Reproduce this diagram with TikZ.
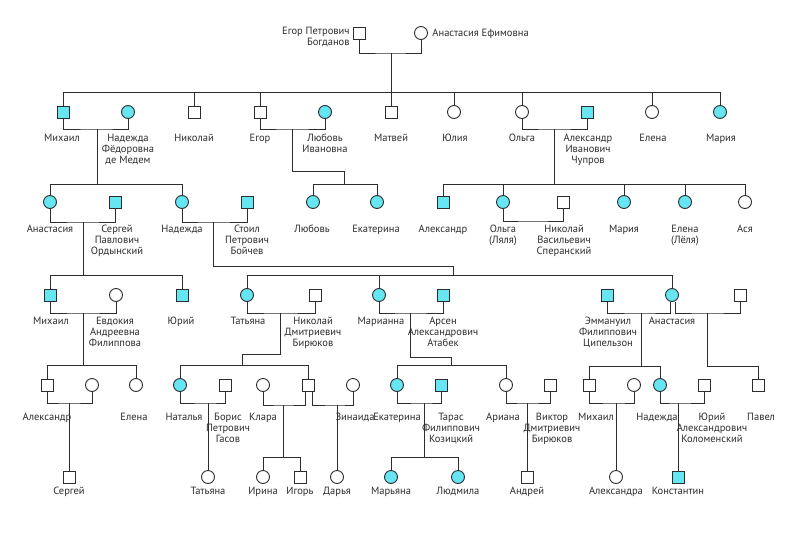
\documentclass[tikz,border=0pt]{standalone}
\usepackage{fontspec}
\setmainfont{PT Sans}
\definecolor{goluboj}{RGB}{102,229,242}
\definecolor{ink}{RGB}{45,45,45}
\tikzset{
  man/.style={draw=ink, rectangle, minimum size=12pt, inner sep=0pt},
  woman/.style={draw=ink, circle, minimum size=13pt, inner sep=0pt},
  kin/.style={fill=goluboj},
  lbl/.style={anchor=north, yshift=7.3pt, align=center, inner sep=0pt, text=ink,
    font=\fontsize{10.5}{11}\selectfont},
}
\begin{document}
\begin{tikzpicture}[x=1pt, y=-1pt, line width=0.9pt, draw=ink]
\fill[white] (0,0) rectangle (800,533);
\useasboundingbox (0,0) rectangle (800,533);

%предки
\node[man] (egor0) at (359,33) {};
\node[woman] (anast0) at (421,33) {};
\node[lbl, anchor=north east, align=right] (l-egor0) at (350,34) {Егор Петрович\\Богданов};
\node[lbl, anchor=north west] (l-anast0) at (432,36) {Анастасия Ефимовна};
\coordinate (u0) at (391,53); \coordinate (b0) at (391,92);

%первое поколение
\node[man, kin] (mikhail1) at (63,112) {};
\node[woman, kin] (nadezhda1) at (128,112) {};
\node[man] (nikolai1) at (194,112) {};
\node[man] (egor1) at (260,112) {};
\node[woman, kin] (lyubov1) at (325,112) {};
\node[man] (matvej1) at (391,112) {};
\node[woman] (yulia1) at (454,112) {};
\node[woman] (olga1) at (522,112) {};
\node[man, kin] (chuprov1) at (587,112) {};
\node[woman] (elena1) at (652,112) {};
\node[woman, kin] (maria1) at (720,112) {};
\node[lbl] at (62,141) {Михаил};
\node[lbl] at (128,141) {Надежда\\Фёдоровна\\де Медем};
\node[lbl] at (194,141) {Николай};
\node[lbl] at (260,141) {Егор};
\node[lbl] at (325,141) {Любовь\\Ивановна};
\node[lbl] at (391,141) {Матвей};
\node[lbl] at (455,141) {Юлия};
\node[lbl] at (522,141) {Ольга};
\node[lbl] at (588,141) {Александр\\Иванович\\Чупров};
\node[lbl] at (653,141) {Елена};
\node[lbl] at (721,141) {Мария};
\coordinate (u1a) at (97,129); \coordinate (b1a) at (97,184);
\coordinate (u1b) at (292,129); \coordinate (k1b) at (292,171); \coordinate (b1b) at (344,184);
\coordinate (u1c) at (554,129); \coordinate (b1c) at (554,184);

%второе поколение
\node[woman, kin] (anast2) at (50,202) {};
\node[man, kin] (sergej2) at (115,202) {};
\node[woman, kin] (nadezhda2) at (182,202) {};
\node[man, kin] (stoil2) at (247,202) {};
\node[woman, kin] (lyubov2) at (313,202) {};
\node[woman, kin] (ekaterina2) at (377,202) {};
\node[man, kin] (aleksandr2) at (443,202) {};
\node[woman, kin] (olga2) at (503,202) {};
\node[man] (speransky2) at (563,202) {};
\node[woman, kin] (maria2) at (624,202) {};
\node[woman, kin] (elena2) at (685,202) {};
\node[woman] (asya2) at (745,202) {};
\node[lbl] at (50,232) {Анастасия};
\node[lbl] at (117,232) {Сергей\\Павлович\\Ордынский};
\node[lbl] at (182,232) {Надежда};
\node[lbl] at (247,232) {Стоил\\Петрович\\Бойчев};
\node[lbl] at (312,232) {Любовь};
\node[lbl] at (376,232) {Екатерина};
\node[lbl] at (443,232) {Александр};
\node[lbl] at (503,232) {Ольга\\(Ляля)};
\node[lbl] at (564,232) {Николай\\Васильевич\\Сперанский};
\node[lbl] at (624,232) {Мария};
\node[lbl] at (685,232) {Елена\\(Лёля)};
\node[lbl] at (745,232) {Ася};
\coordinate (u2a) at (83,222); \coordinate (b2a) at (83,275);
\coordinate (u2b) at (213,222); \coordinate (k2b) at (213,266); \coordinate (b2b) at (453,275);
\coordinate (u2c) at (533,221);

%третье поколение
\node[man, kin] (mikhail3) at (50,295) {};
\node[woman] (evdokia3) at (116,295) {};
\node[man, kin] (yurij3) at (182,295) {};
\node[woman, kin] (tatiana3) at (247,295) {};
\node[man] (birukov3) at (315,295) {};
\node[woman, kin] (marianna3) at (379,295) {};
\node[man, kin] (arsen3) at (443,295) {};
\node[man, kin] (emmanuil3) at (607,295) {};
\node[woman, kin] (anast3) at (672,295) {};
\node[man] (muzh3) at (740,295) {};
\node[lbl] at (51,324) {Михаил};
\node[lbl] at (115,324) {Евдокия\\Андреевна\\Филиппова};
\node[lbl] at (181,324) {Юрий};
\node[lbl] at (248,324) {Татьяна};
\node[lbl] at (313,324) {Николай\\Дмитриевич\\Бирюков};
\node[lbl] at (381,324) {Марианна};
\node[lbl] at (443,324) {Арсен\\Александрович\\Атабек};
\node[lbl] at (608,324) {Эммануил\\Филиппович\\Ципельзон};
\node[lbl] at (672,324) {Анастасия};
\coordinate (u3a) at (83,313); \coordinate (b3a) at (83,365);
\coordinate (u3b) at (280,313); \coordinate (k3b) at (280,354); \coordinate (b3b) at (242,365);
\coordinate (u3c) at (410,313); \coordinate (k3c) at (410,357); \coordinate (b3c) at (451,365);
\coordinate (u3d) at (641,313); \coordinate (b3d) at (641,366);
\coordinate (u3e) at (707,313); \coordinate (b3e) at (707,366);

%четвёртое поколение
\node[man] (aleksandr4) at (47,385) {};
\node[woman] (zhena4) at (92,385) {};
\node[woman] (elena4) at (136,385) {};
\node[woman, kin] (natalia4) at (180,385) {};
\node[man] (boris4) at (225,385) {};
\node[woman] (klara4) at (263,385) {};
\node[man] (syn4) at (308,385) {};
\node[woman] (zinaida4) at (353,385) {};
\node[woman, kin] (ekaterina4) at (397,385) {};
\node[man, kin] (taras4) at (441,385) {};
\node[woman] (ariana4) at (506,385) {};
\node[man] (viktor4) at (550,385) {};
\node[man] (mikhail4) at (589,385) {};
\node[woman] (zhena4b) at (634,385) {};
\node[woman, kin] (nadezhda4) at (660,385) {};
\node[man] (yurij4) at (704,385) {};
\node[man] (pavel4) at (758,385) {};
\node[lbl] at (47,420) {Александр};
\node[lbl] at (134,420) {Елена};
\node[lbl] at (184,420) {Наталья};
\node[lbl] at (228,420) {Борис\\Петрович\\Гасов};
\node[lbl] at (263,420) {Клара};
\node[lbl] at (355,420) {Зинаида};
\node[lbl] at (397,420) {Екатерина};
\node[lbl] at (451,420) {Тарас\\Филиппович\\Козицкий};
\node[lbl] at (503,420) {Ариана};
\node[lbl] at (552,420) {Виктор\\Дмитриевич\\Бирюков};
\node[lbl] at (596,420) {Михаил};
\node[lbl] at (657,420) {Надежда};
\node[lbl] at (712,420) {Юрий\\Александрович\\Коломенский};
\node[lbl] at (761,420) {Павел};
\coordinate (u4a) at (69,403);
\coordinate (u4b) at (208,403);
\coordinate (u4c) at (283,405); \coordinate (b4c) at (283,457);
\coordinate (u4d) at (337,405);
\coordinate (u4e) at (424,403); \coordinate (b4e) at (424,457);
\coordinate (u4f) at (527,403);
\coordinate (u4g) at (616,403);
\coordinate (u4h) at (678,403);

%пятое поколение
\node[man] (sergej5) at (69,477) {};
\node[woman] (tatiana5) at (208,477) {};
\node[woman] (irina5) at (263,477) {};
\node[man] (igor5) at (300,477) {};
\node[woman] (darya5) at (337,477) {};
\node[woman, kin] (maryana5) at (391,477) {};
\node[woman, kin] (lyudmila5) at (458,477) {};
\node[man] (andrej5) at (527,477) {};
\node[woman] (aleksandra5) at (616,477) {};
\node[man, kin] (konstantin5) at (678,477) {};
\node[lbl] at (69,494) {Сергей};
\node[lbl] at (208,494) {Татьяна};
\node[lbl] at (263,494) {Ирина};
\node[lbl] at (300,494) {Игорь};
\node[lbl] at (337,494) {Дарья};
\node[lbl] at (391,494) {Марьяна};
\node[lbl] at (458,494) {Людмила};
\node[lbl] at (527,494) {Андрей};
\node[lbl] at (616,494) {Александра};
\node[lbl] at (678,494) {Константин};

%браки
\draw (egor0.south) |- (u0) -| (anast0.south);
\draw (mikhail1.south) |- (u1a) -| (nadezhda1.south);
\draw (egor1.south) |- (u1b) -| (lyubov1.south);
\draw (olga1.south) |- (u1c) -| (chuprov1.south);
\draw (anast2.south) |- (u2a) -| (sergej2.south);
\draw (nadezhda2.south) |- (u2b) -| (stoil2.south);
\draw (olga2.south) |- (u2c) -| (speransky2.south);
\draw (mikhail3.south) |- (u3a) -| (evdokia3.south);
\draw (tatiana3.south) |- (u3b) -| (birukov3.south);
\draw (marianna3.south) |- (u3c) -| (arsen3.south);
\draw (emmanuil3.south) |- (u3d) -| ([xshift=-2pt]anast3.south);
\draw ([xshift=3pt]anast3.south) |- (u3e) -| (muzh3.south);
\draw (aleksandr4.south) |- (u4a) -| (zhena4.south);
\draw (natalia4.south) |- (u4b) -| (boris4.south);
\draw (klara4.south) |- (u4c) -| ([xshift=-3pt]syn4.south);
\draw ([xshift=4pt]syn4.south) |- (u4d) -| (zinaida4.south);
\draw (ekaterina4.south) |- (u4e) -| (taras4.south);
\draw (ariana4.south) |- (u4f) -| (viktor4.south);
\draw (mikhail4.south) |- (u4g) -| (zhena4b.south);
\draw (nadezhda4.south) |- (u4h) -| (yurij4.south);

%дети
\draw (u0) -- (b0);
\foreach \c in {mikhail1,nikolai1,egor1,matvej1,yulia1,olga1,elena1,maria1}
  \draw (\c.north) |- (b0);
\draw (u1a) -- (b1a);
\foreach \c in {anast2,nadezhda2} \draw (\c.north) |- (b1a);
\draw (u1b) -- (k1b) -| (b1b);
\foreach \c in {lyubov2,ekaterina2} \draw (\c.north) |- (b1b);
\draw (u1c) -- (b1c);
\foreach \c in {aleksandr2,olga2,maria2,elena2,asya2} \draw (\c.north) |- (b1c);
\draw (u2a) -- (b2a);
\foreach \c in {mikhail3,yurij3} \draw (\c.north) |- (b2a);
\draw (u2b) -- (k2b) -| (b2b);
\foreach \c in {tatiana3,marianna3,anast3} \draw (\c.north) |- (b2b);
\draw (u3a) -- (b3a);
\foreach \c in {aleksandr4,elena4} \draw (\c.north) |- (b3a);
\draw (u3b) -- (k3b) -| (b3b);
\foreach \c in {natalia4,syn4} \draw (\c.north) |- (b3b);
\draw (u3c) -- (k3c) -| (b3c);
\foreach \c in {ekaterina4,ariana4} \draw (\c.north) |- (b3c);
\draw (u3d) -- (b3d);
\foreach \c in {mikhail4,nadezhda4} \draw (\c.north) |- (b3d);
\draw (u3e) -- (b3e);
\draw (pavel4.north) |- (b3e);
\draw (u4a) -- (sergej5.north);
\draw (u4b) -- (tatiana5.north);
\draw (u4c) -- (b4c);
\foreach \c in {irina5,igor5} \draw (\c.north) |- (b4c);
\draw (u4d) -- (darya5.north);
\draw (u4e) -- (b4e);
\foreach \c in {maryana5,lyudmila5} \draw (\c.north) |- (b4e);
\draw (u4f) -- (andrej5.north);
\draw (u4g) -- (aleksandra5.north);
\draw (u4h) -- (konstantin5.north);

\end{tikzpicture}
\end{document}
